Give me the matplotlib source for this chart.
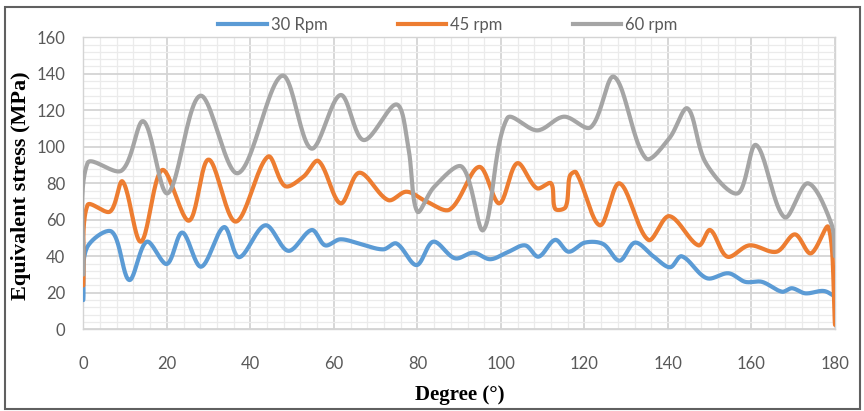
import matplotlib
matplotlib.use('Agg')
import matplotlib.pyplot as plt
from matplotlib.lines import Line2D
from matplotlib.patches import Rectangle
import numpy as np

# peak / valley readings of equivalent stress (MPa) against degree
deg_30 = [0, 0.8, 6.8, 11, 15.2, 20, 23.7, 28.2, 33.7, 37.3, 43.6, 49.1, 54.7, 57.9,
          61.5, 66, 71.8, 75, 79.8, 83.8, 89, 93.4, 97.4, 101.4, 105.8, 109, 113,
          116.2, 120.1, 124.5, 128.4, 132.1, 136.5, 140.5, 143.3, 149.3, 154.5,
          158.5, 162.5, 167.3, 169.7, 172.9, 177.3, 180]
stress_30 = [16, 44.4, 53.5, 27, 48, 35.8, 53, 34.3, 56, 39.5, 57, 43, 54.4, 46,
             49.3, 47, 43.8, 47, 35.2, 48, 38.9, 42, 38.4, 42, 46, 39.8, 49,
             42.5, 47.5, 46.7, 37.6, 47.5, 40, 34, 40, 28, 30.7,
             26, 26, 20.6, 22.5, 19.7, 21, 18]

deg_45 = [0, 1, 6.4, 9.4, 13.8, 18.9, 25.3, 30, 36.5, 44.2, 48.3, 52.7, 56.3, 61.6,
          66.1, 73, 77.4, 82.2, 87.8, 94.8, 99.6, 103.9, 108.6, 112, 113, 115.5,
          116.5, 118, 123.7, 128.4, 135.3, 140.3, 147.3, 150.1, 154.2, 159.5, 166,
          170.4, 174.2, 178.4, 180]
stress_45 = [24, 68, 64.5, 81, 48, 87.3, 59.5, 93, 59, 94.6, 78.5, 83.6, 92.2, 69,
             85.8, 70.8, 75.4, 70, 65.7, 89, 69, 91, 77.3, 80, 66, 67,
             84, 86, 57, 80, 49, 62, 46, 54.4, 39.8, 46, 42.5,
             52, 41.6, 56, 2.4]

deg_60 = [0, 1, 9.2, 14.4, 20.2, 28, 37, 47.6, 54.6, 61.6, 67.1, 75, 77.8, 80, 84,
          90.7, 95.8, 101.5, 108.7, 115.1, 121.5, 127.1, 134.7, 140.3, 144.7, 149.1,
          156.7, 161.1, 167.9, 173.5, 179.1, 180]
stress_60 = [30, 91, 87, 114, 74.5, 128, 85.5, 139, 99, 128.4, 103.7, 123.2, 100, 64.5, 78,
             89, 54.4, 115.6, 109, 116.5, 110.7, 138.4, 93.7, 104.6, 121, 91,
             74.5, 101, 61.4, 80, 58, 40]

labels = ['30 Rpm', '45 rpm', '60 rpm']
colors = ['#5B9BD5', '#ED7D31', '#A5A5A5']


def smooth(x, y, n=24, sx=4.18, sy=1.825):
    # bezier smoothing through the points; handle length follows the
    # neighbouring segment lengths (on-screen) so short steep runs don't overshoot
    pts = np.column_stack([x, y]).astype(float)
    P = np.vstack([pts[0], pts, pts[-1]])
    scale = np.array([sx, sy])

    def dist(a, b):
        return np.hypot(*((b - a) * scale)) + 1e-9

    out = []
    t = np.linspace(0, 1, n)[:, None]
    for i in range(1, len(P) - 2):
        p0, p1, p2, p3 = P[i - 1], P[i], P[i + 1], P[i + 2]
        d01, d12, d23 = dist(p0, p1), dist(p1, p2), dist(p2, p3)
        c1 = p1 + (p2 - p0) * d12 / (d01 + d12) / 3
        c2 = p2 - (p3 - p1) * d12 / (d12 + d23) / 3
        seg = (1 - t) ** 3 * p1 + 3 * (1 - t) ** 2 * t * c1 + 3 * (1 - t) * t ** 2 * c2 + t ** 3 * p2
        out.append(seg)
    out = np.vstack(out)
    return out[:, 0], out[:, 1]


fig = plt.figure(figsize=(8.64, 4.11), dpi=100)
ax = fig.add_axes([83.3 / 864, 1 - 329.3 / 411, (835 - 83.3) / 864, (329.3 - 37.3) / 411])

series = [(deg_30, stress_30), (deg_45, stress_45), (deg_60, stress_60)]
for (x, y), c, lab in zip(series, colors, labels):
    sx, sy = smooth(x, y)
    ax.plot(sx, sy, color=c, lw=3, solid_capstyle='round', label=lab, zorder=3)

ax.set_xlim(0, 180)
ax.set_ylim(0, 160)
ax.set_xticks(np.arange(0, 181, 20))
ax.set_yticks(np.arange(0, 161, 20))
ax.set_xticks(np.arange(0, 181, 4), minor=True)
ax.set_yticks(np.arange(0, 161, 4), minor=True)
ax.grid(which='major', color='#d4d4d4', lw=1.3, zorder=0)
ax.grid(which='minor', color='#ebebeb', lw=0.9, zorder=0)
ax.set_axisbelow(True)
ax.tick_params(which='both', length=0)
ax.tick_params(axis='x', pad=19, labelsize=12, labelcolor='#595959')
ax.tick_params(axis='y', pad=13, labelsize=12, labelcolor='#595959')
for lbl in ax.get_xticklabels() + ax.get_yticklabels():
    lbl.set_family('Lato')
for side in ax.spines.values():
    side.set_color('#d4d4d4')
    side.set_linewidth(1.0)

fig.text(460 / 864, 1 - 395 / 411, 'Degree (°)', ha='center', va='center',
         family='Liberation Serif', weight='bold', fontsize=15)
fig.text(21 / 864, 1 - 186 / 411, 'Equivalent stress (MPa)', ha='center', va='center',
         rotation=90, family='Liberation Serif', weight='bold', fontsize=16)

handles = [Line2D([], [], color=c, lw=3) for c in colors]
fig.legend(handles, labels, loc='center', bbox_to_anchor=(448 / 864, 1 - 25 / 411), ncol=3,
           frameon=False, handlelength=2.9, handletextpad=0.25, columnspacing=4.2,
           prop={'family': 'Lato', 'size': 12}, labelcolor='#595959')

fig.add_artist(Rectangle((5 / 864, 2 / 411), 855 / 864, (404 - 2) / 411,
                         transform=fig.transFigure, fill=False, edgecolor='#606060', lw=1.5))

fig.savefig('out.png', dpi=100)
